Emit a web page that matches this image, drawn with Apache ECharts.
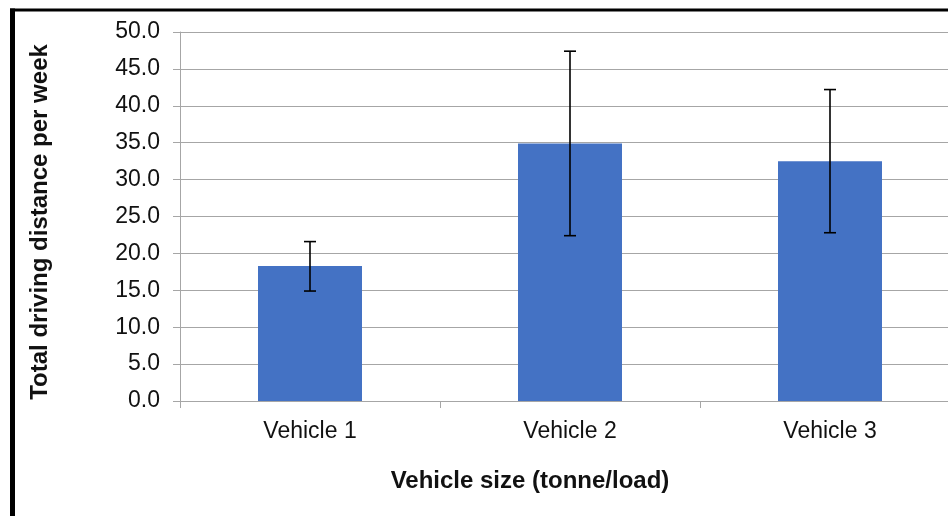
<!DOCTYPE html>
<html>
<head>
<meta charset="utf-8">
<script src="https://cdn.jsdelivr.net/npm/echarts@6/dist/echarts.min.js"></script>
<style>
html,body{margin:0;padding:0;background:#fff;overflow:hidden;width:948px;height:516px;}
#c{width:960px;height:516px;}
</style>
</head>
<body>
<div id="c"></div>
<script>
var categories = ['Vehicle 1', 'Vehicle 2', 'Vehicle 3'];
var means = [18.3, 34.9, 32.5];
var errLow = [14.9, 22.4, 22.8];
var errHigh = [21.6, 47.4, 42.2];
var xTitle = 'Vehicle size (tonne/load)';
var yTitle = 'Total driving distance per week';

var font = 'Liberation Sans, Arial, sans-serif';
var chart = echarts.init(document.getElementById('c'));
var errData = categories.map(function (c, i) { return [i, errLow[i], errHigh[i]]; });

chart.setOption({
  animation: false,
  backgroundColor: '#fff',
  grid: { left: 180, right: 0, top: 32, bottom: 115, containLabel: false },
  xAxis: {
    type: 'category',
    data: categories,
    boundaryGap: true,
    axisLine: { show: true, lineStyle: { color: '#A6A6A6', width: 1 } },
    axisTick: { show: true, length: 7, alignWithLabel: false, lineStyle: { color: '#A6A6A6' } },
    axisLabel: { color: '#111', fontFamily: font, fontSize: 23, margin: 19 },
    splitLine: { show: false }
  },
  yAxis: {
    type: 'value',
    min: 0, max: 50, interval: 5,
    axisLine: { show: true, lineStyle: { color: '#A6A6A6', width: 1 } },
    axisTick: { show: true, length: 7, lineStyle: { color: '#A6A6A6' } },
    axisLabel: { color: '#111', fontFamily: font, fontSize: 23, margin: 20, padding: [3, 0, 0, 0],
      formatter: function (v) { return v.toFixed(1); } },
    splitLine: { show: true, lineStyle: { color: '#A6A6A6', width: 1 } }
  },
  series: [
    {
      type: 'bar',
      data: means,
      barWidth: '40%',
      itemStyle: { color: '#4472C4' }
    },
    {
      type: 'custom',
      data: errData,
      z: 10,
      renderItem: function (params, api) {
        var x = api.value(0);
        var lo = api.coord([x, api.value(1)]);
        var hi = api.coord([x, api.value(2)]);
        var hw = 6;
        var st = { stroke: '#000', lineWidth: 1.6 };
        return {
          type: 'group',
          children: [
            { type: 'line', shape: { x1: hi[0], y1: hi[1], x2: lo[0], y2: lo[1] }, style: st },
            { type: 'line', shape: { x1: hi[0] - hw, y1: hi[1], x2: hi[0] + hw, y2: hi[1] }, style: st },
            { type: 'line', shape: { x1: lo[0] - hw, y1: lo[1], x2: lo[0] + hw, y2: lo[1] }, style: st }
          ]
        };
      }
    }
  ],
  graphic: [
    { type: 'line', shape: { x1: 12.5, y1: 8.5, x2: 12.5, y2: 530 }, style: { stroke: '#000', lineWidth: 5 } },
    { type: 'line', shape: { x1: 10, y1: 10, x2: 960, y2: 10 }, style: { stroke: '#000', lineWidth: 3 } },
    { type: 'text', x: 530, y: 481, style: { text: xTitle, font: 'bold 24px ' + font, fill: '#111', textAlign: 'center', textVerticalAlign: 'middle' } },
    { type: 'text', x: 40, y: 222, rotation: Math.PI / 2, style: { text: yTitle, font: 'bold 24px ' + font, fill: '#111', textAlign: 'center', textVerticalAlign: 'middle' } }
  ]
});
</script>
</body>
</html>
